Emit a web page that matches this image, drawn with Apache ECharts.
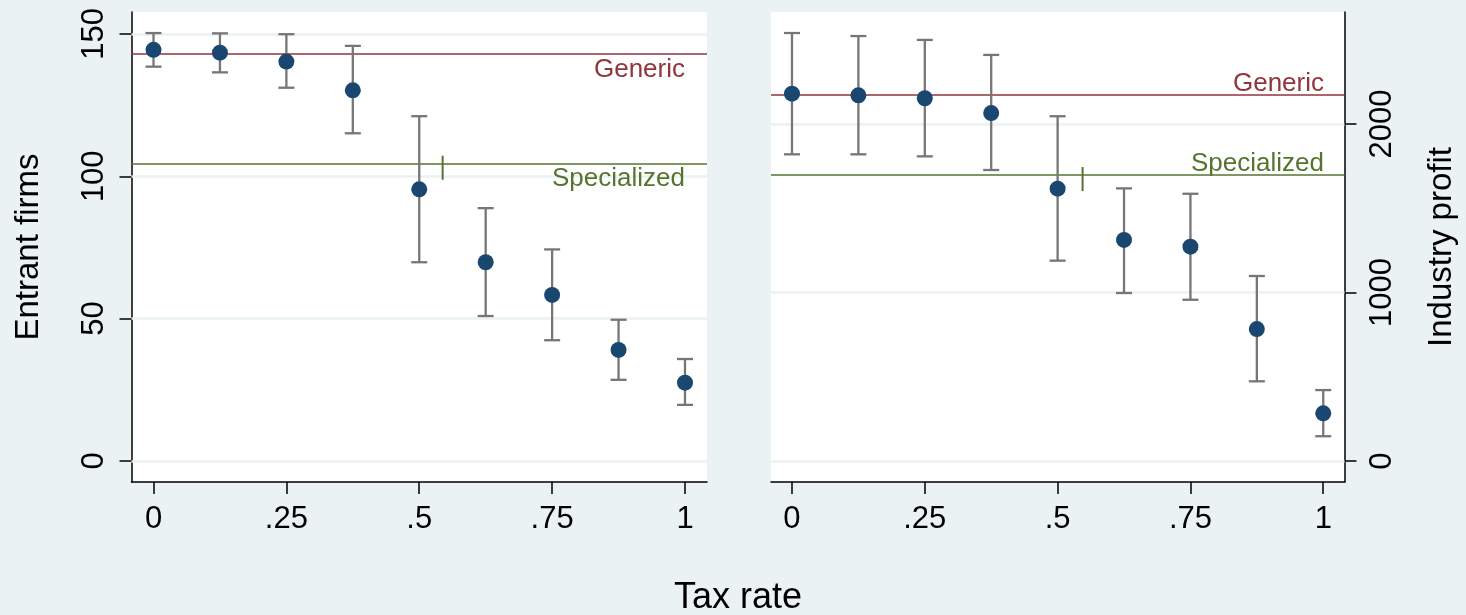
<!DOCTYPE html>
<html>
<head>
<meta charset="utf-8">
<script src="https://cdn.jsdelivr.net/npm/echarts@6/dist/echarts.min.js"></script>
<style>
  html, body { margin: 0; padding: 0; background: #EAF2F3; }
  #chart { width: 1466px; height: 615px; }
</style>
</head>
<body>
<div id="chart"></div>
<script>
// ---- data ----
const taxRates   = [0, 0.125, 0.25, 0.375, 0.5, 0.625, 0.75, 0.875, 1];
const firmsMean  = [144.4, 143.4, 140.3, 130.2, 95.4, 69.8, 58.3, 39.0, 27.5];
const firmsLow   = [138.5, 136.5, 131.1, 115.1, 69.8, 50.9, 42.4, 28.5, 19.7];
const firmsHigh  = [150.3, 150.2, 149.9, 145.8, 121.1, 88.8, 74.3, 49.6, 35.8];
const profitMean = [2180, 2170, 2153, 2065, 1616, 1312, 1272, 783, 283];
const profitLow  = [1820, 1820, 1808, 1727, 1189, 997, 957, 473, 147];
const profitHigh = [2540, 2522, 2499, 2410, 2046, 1618, 1586, 1098, 421];
const firmsGeneric = 142.9, firmsSpecialized = 104.4;
const profitGeneric = 2176, profitSpecialized = 1697;
const firmsCross = 0.544, profitCross = 0.547;
const xTickValues = [0, 0.25, 0.5, 0.75, 1];
const xTickLabels = ['0', '.25', '.5', '.75', '1'];
const firmsTicks  = [0, 50, 100, 150];
const profitTicks = [0, 1000, 2000];

// ---- styling ----
const FONT = '"Liberation Sans", Arial, Helvetica, sans-serif';
const NAVY = '#1A476F', MAROON = '#90353B', GREEN = '#55752F', CI = '#767676';
const GRIDC = '#EAF2F3';

const chart = echarts.init(document.getElementById('chart'), null, { renderer: 'canvas' });

function zip3(a, b, c) { return a.map((v, i) => [v, b[i], c[i]]); }
function zip2(a, b) { return a.map((v, i) => [v, b[i]]); }

function xAxisCfg(gridIndex, min, max) {
  return {
    type: 'value', gridIndex, min, max,
    axisLine: { show: true, onZero: false, lineStyle: { color: '#000', width: 1.5 } },
    axisTick: { show: true, customValues: xTickValues, length: 12, lineStyle: { color: '#000', width: 1.5 } },
    axisLabel: {
      show: true, customValues: xTickValues, margin: 22,
      fontFamily: FONT, fontSize: 31, color: '#000',
      formatter: v => { const i = xTickValues.findIndex(t => Math.abs(t - v) < 1e-9); return i >= 0 ? xTickLabels[i] : ''; }
    },
    splitLine: { show: false }
  };
}

function yAxisCfg(gridIndex, min, max, ticks, position, name, nameGap) {
  return {
    type: 'value', gridIndex, min, max, position,
    name, nameLocation: 'middle', nameRotate: 90, nameGap,
    nameTextStyle: { fontFamily: FONT, fontSize: 33, color: '#000' },
    axisLine: { show: true, onZero: false, lineStyle: { color: '#000', width: 1.5 } },
    axisTick: { show: true, customValues: ticks, length: 12, lineStyle: { color: '#000', width: 1.5 } },
    axisLabel: {
      show: true, customValues: ticks, margin: 22, rotate: 90,
      fontFamily: FONT, fontSize: 31, color: '#000', formatter: v => String(v)
    },
    splitLine: { show: false }
  };
}

function gridLineSeries(idx, ticks) {
  return {
    type: 'line', xAxisIndex: idx, yAxisIndex: idx, data: [], silent: true, z: 1,
    markLine: {
      silent: true, symbol: 'none', animation: false, z: 1,
      lineStyle: { color: GRIDC, width: 2.5, type: 'solid' },
      label: { show: false },
      data: ticks.map(v => ({ yAxis: v }))
    }
  };
}

function refLineSeries(idx, generic, special, below) {
  const pos = below ? 'insideEndBottom' : 'insideEndTop';
  const dist = below ? [22, 2.5] : [20.5, -2];
  return {
    type: 'line', xAxisIndex: idx, yAxisIndex: idx, data: [], silent: true, z: 2,
    markLine: {
      silent: true, symbol: 'none', animation: false, z: 2,
      data: [
        { yAxis: generic, lineStyle: { color: MAROON, width: 1.5, type: 'solid' },
          label: { show: true, formatter: 'Generic', position: pos, distance: dist, color: MAROON, fontFamily: FONT, fontSize: 26 } },
        { yAxis: special, lineStyle: { color: GREEN, width: 1.5, type: 'solid' },
          label: { show: true, formatter: 'Specialized', position: pos, distance: dist, color: GREEN, fontFamily: FONT, fontSize: 26 } }
      ]
    }
  };
}

function crossSeries(idx, x, y) {
  return {
    type: 'custom', xAxisIndex: idx, yAxisIndex: idx, z: 6, silent: true,
    encode: { x: 0, y: 1 },
    data: [[x, y]],
    renderItem(params, api) {
      const p = api.coord([api.value(0), api.value(1)]);
      return { type: 'line', shape: { x1: p[0], y1: p[1] - 8, x2: p[0], y2: p[1] + 16 },
               style: { stroke: GREEN, lineWidth: 2 } };
    }
  };
}

function errSeries(idx, data) {
  return {
    type: 'custom', xAxisIndex: idx, yAxisIndex: idx, z: 4, silent: true,
    encode: { x: 0, y: [1, 2] },
    data,
    renderItem(params, api) {
      const x = api.value(0), lo = api.value(1), hi = api.value(2);
      const a = api.coord([x, hi]), b = api.coord([x, lo]);
      const w = 8;
      const st = { stroke: CI, lineWidth: 2.3 };
      return {
        type: 'group', children: [
          { type: 'line', shape: { x1: a[0], y1: a[1], x2: b[0], y2: b[1] }, style: st },
          { type: 'line', shape: { x1: a[0] - w, y1: a[1], x2: a[0] + w, y2: a[1] }, style: st },
          { type: 'line', shape: { x1: b[0] - w, y1: b[1], x2: b[0] + w, y2: b[1] }, style: st }
        ]
      };
    }
  };
}

function pointSeries(idx, data) {
  return {
    type: 'scatter', xAxisIndex: idx, yAxisIndex: idx, z: 5, silent: true,
    symbol: 'circle', symbolSize: 16, itemStyle: { color: NAVY, opacity: 1 }, data
  };
}

const option = {
  animation: false,
  backgroundColor: '#EAF2F3',
  textStyle: { fontFamily: FONT },
  grid: [
    { left: 131.5, top: 12, width: 575.5, height: 470, show: true, backgroundColor: '#FFFFFF', borderWidth: 0, containLabel: false, outerBoundsMode: 'none' },
    { left: 771, top: 12, width: 573.5, height: 470, show: true, backgroundColor: '#FFFFFF', borderWidth: 0, containLabel: false, outerBoundsMode: 'none' }
  ],
  xAxis: [ xAxisCfg(0, -0.0414, 1.0414), xAxisCfg(1, -0.0395, 1.040) ],
  yAxis: [
    yAxisCfg(0, -7.4, 157.7, firmsTicks, 'left', 'Entrant firms', 86),
    yAxisCfg(1, -124.6, 2664.7, profitTicks, 'right', 'Industry profit', 81)
  ],
  graphic: [
    { type: 'text', x: 738, y: 598, style: { text: 'Tax rate', fill: '#000', fontFamily: FONT, fontSize: 36, textAlign: 'center', textVerticalAlign: 'middle' } }
  ],
  series: [
    gridLineSeries(0, firmsTicks),
    gridLineSeries(1, profitTicks),
    refLineSeries(0, firmsGeneric, firmsSpecialized, true),
    refLineSeries(1, profitGeneric, profitSpecialized, false),
    crossSeries(0, firmsCross, firmsSpecialized),
    crossSeries(1, profitCross, profitSpecialized),
    errSeries(0, zip3(taxRates, firmsLow, firmsHigh)),
    errSeries(1, zip3(taxRates, profitLow, profitHigh)),
    pointSeries(0, zip2(taxRates, firmsMean)),
    pointSeries(1, zip2(taxRates, profitMean))
  ]
};
chart.setOption(option);
</script>
</body>
</html>
